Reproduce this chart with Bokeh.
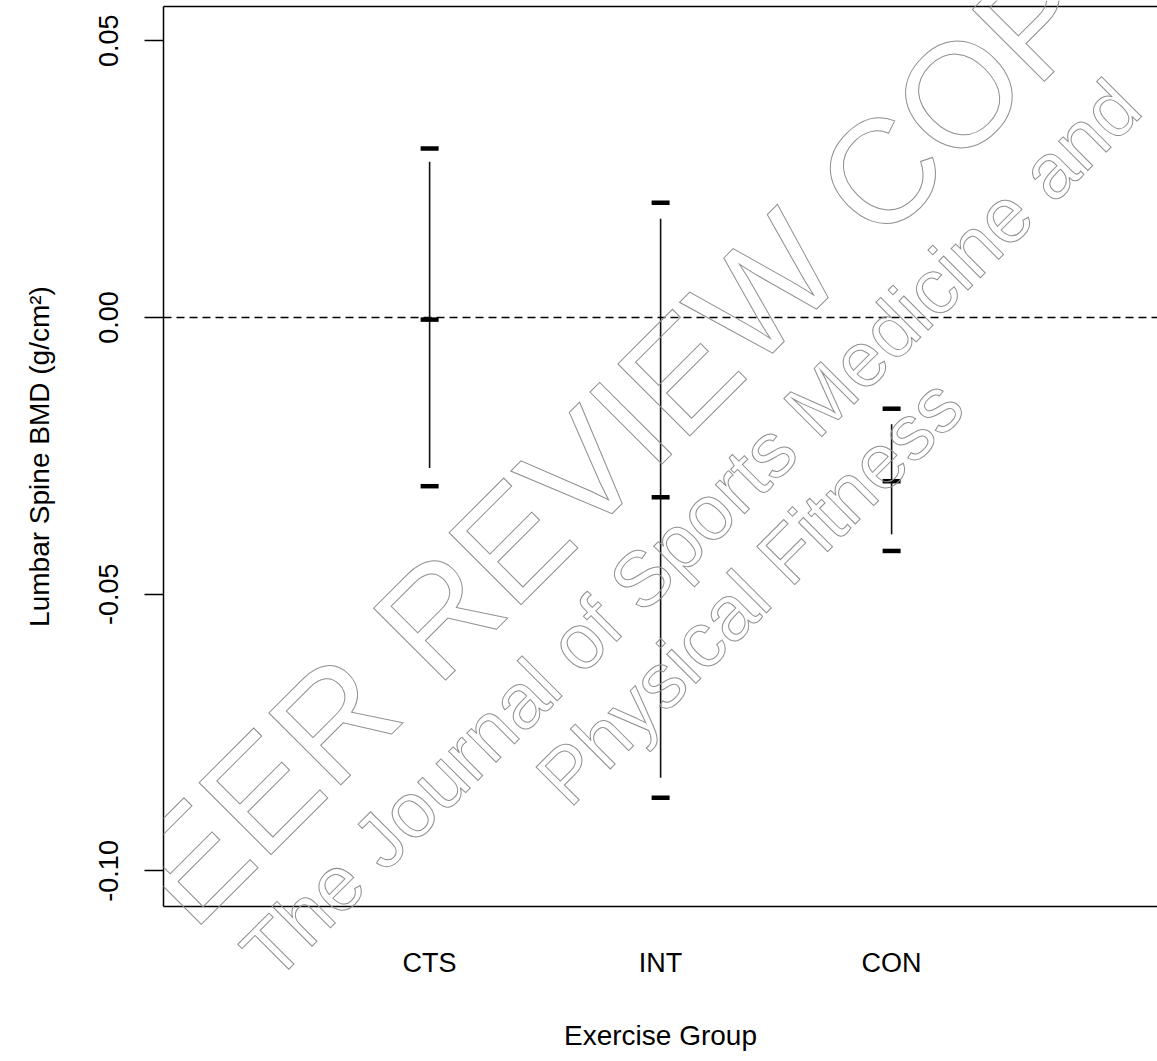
import math
from bokeh.plotting import figure
from bokeh.layouts import column
from bokeh.models import (Range1d, LinearAxis, FixedTicker, Span, Label,
                          ColumnDataSource, NumeralTickFormatter)
from bokeh.embed import file_html
from bokeh.resources import INLINE

# ---- data ----
groups = ["CTS", "INT", "CON"]
mean_change = [-0.0004, -0.0325, -0.0296]
ci_upper = [0.0305, 0.0207, -0.0165]
ci_lower = [-0.0305, -0.0868, -0.0422]
bar_upper = [0.0281, 0.0178, -0.0193]
bar_lower = [-0.0272, -0.0832, -0.0392]
y_ticks = [-0.10, -0.05, 0.00, 0.05]

FONT = "Liberation Sans"
positions = [i + 1 for i in range(len(groups))]

W, H = 1157, 1053
PX_PER_X = 231.0
PX_PER_Y = 5590.0
X0 = -0.152
X1 = X0 + 994 / PX_PER_X
Y1 = (320 - 6) / PX_PER_Y
Y0 = (320 - 915) / PX_PER_Y

p = figure(width=W, height=H, output_backend="svg", toolbar_location=None,
           x_range=Range1d(X0, X1), y_range=Range1d(Y0, Y1),
           min_border_left=163, min_border_right=0, min_border_top=6,
           min_border_bottom=138)
p.outline_line_color = None
p.xgrid.grid_line_color = None
p.ygrid.grid_line_color = None
p.background_fill_color = "white"
p.border_fill_color = "white"

# ---- reference line ----
p.add_layout(Span(location=0, dimension="width", line_color="black",
                  line_width=1.5, line_dash="8 5"))

# ---- error bars ----
src = ColumnDataSource(dict(x=positions, mean=mean_change, up=ci_upper, lo=ci_lower,
                            bu=bar_upper, bl=bar_lower))
p.segment(x0="x", y0="bl", x1="x", y1="bu", source=src, line_color="#111111",
          line_width=1.6)
for col in ["up", "mean", "lo"]:
    p.rect(x="x", y=col, width=18, height=4.5, width_units="screen",
           height_units="screen", source=src, fill_color="black", line_color=None)

# ---- axes ----
ya = p.yaxis[0]
ya.ticker = FixedTicker(ticks=y_ticks)
ya.formatter = NumeralTickFormatter(format="0.00")
ya.major_label_orientation = "vertical"
ya.major_tick_out = 19
ya.major_tick_in = 0
ya.minor_tick_out = 0
ya.minor_tick_in = 0
ya.major_tick_line_width = 1.5
ya.major_tick_line_color = "black"
ya.axis_line_width = 1.5
ya.axis_line_color = "black"
ya.major_label_text_font = FONT
ya.major_label_text_font_size = "27px"
ya.major_label_text_color = "black"
ya.major_label_standoff = 26
ya.axis_label = "Lumbar Spine BMD (g/cm\u00b2)"
ya.axis_label_text_font = FONT
ya.axis_label_text_font_size = "28px"
ya.axis_label_text_font_style = "normal"
ya.axis_label_text_color = "black"
ya.axis_label_standoff = 42

xa = p.xaxis[0]
xa.ticker = FixedTicker(ticks=positions)
xa.major_label_overrides = {pos: g for pos, g in zip(positions, groups)}
xa.major_tick_out = 0
xa.major_tick_in = 0
xa.minor_tick_out = 0
xa.minor_tick_in = 0
xa.axis_line_width = 1.5
xa.axis_line_color = "black"
xa.major_label_text_font = FONT
xa.major_label_text_font_size = "27px"
xa.major_label_text_color = "black"
xa.major_label_standoff = 41
xa.axis_label = "Exercise Group"
xa.axis_label_text_font = FONT
xa.axis_label_text_font_size = "28px"
xa.axis_label_text_font_style = "normal"
xa.axis_label_text_color = "black"
xa.axis_label_standoff = 39

top = LinearAxis(ticker=FixedTicker(ticks=[]), major_tick_out=0, major_tick_in=0,
                 minor_tick_out=0, minor_tick_in=0, major_label_text_font_size="0px",
                 major_label_standoff=0, axis_line_width=1.5, axis_line_color="black")
p.add_layout(top, "above")

# ---- watermark: transparent overlay figure covering the whole chart ----
wmk = figure(width=W, height=H, output_backend="svg", toolbar_location=None,
             x_range=Range1d(0, W), y_range=Range1d(H, 0),
             x_axis_location=None, y_axis_location=None,
             min_border=0, margin=(-H, 0, 0, 0))
wmk.outline_line_color = None
wmk.xgrid.grid_line_color = None
wmk.ygrid.grid_line_color = None
wmk.background_fill_alpha = 0
wmk.border_fill_alpha = 0

wm = [("PEER REVIEW COPY", 86, 966, "148px"),
      ("The Journal of Sports Medicine and", 255, 964, "78px"),
      ("Physical Fitness", 550, 790, "78px")]
for txt, px, py, fs in wm:
    wmk.add_layout(Label(x=px, y=py, x_units="canvas", y_units="canvas",
                         text=txt, angle=math.pi / 4,
                         text_font=FONT, text_font_size=fs, text_align="left",
                         text_baseline="alphabetic", text_color="#ffffff00",
                         text_alpha=1.0, text_outline_color="#909090"))

layout = column(p, wmk, spacing=0)
open("out.html", "w").write(file_html(layout, INLINE))
